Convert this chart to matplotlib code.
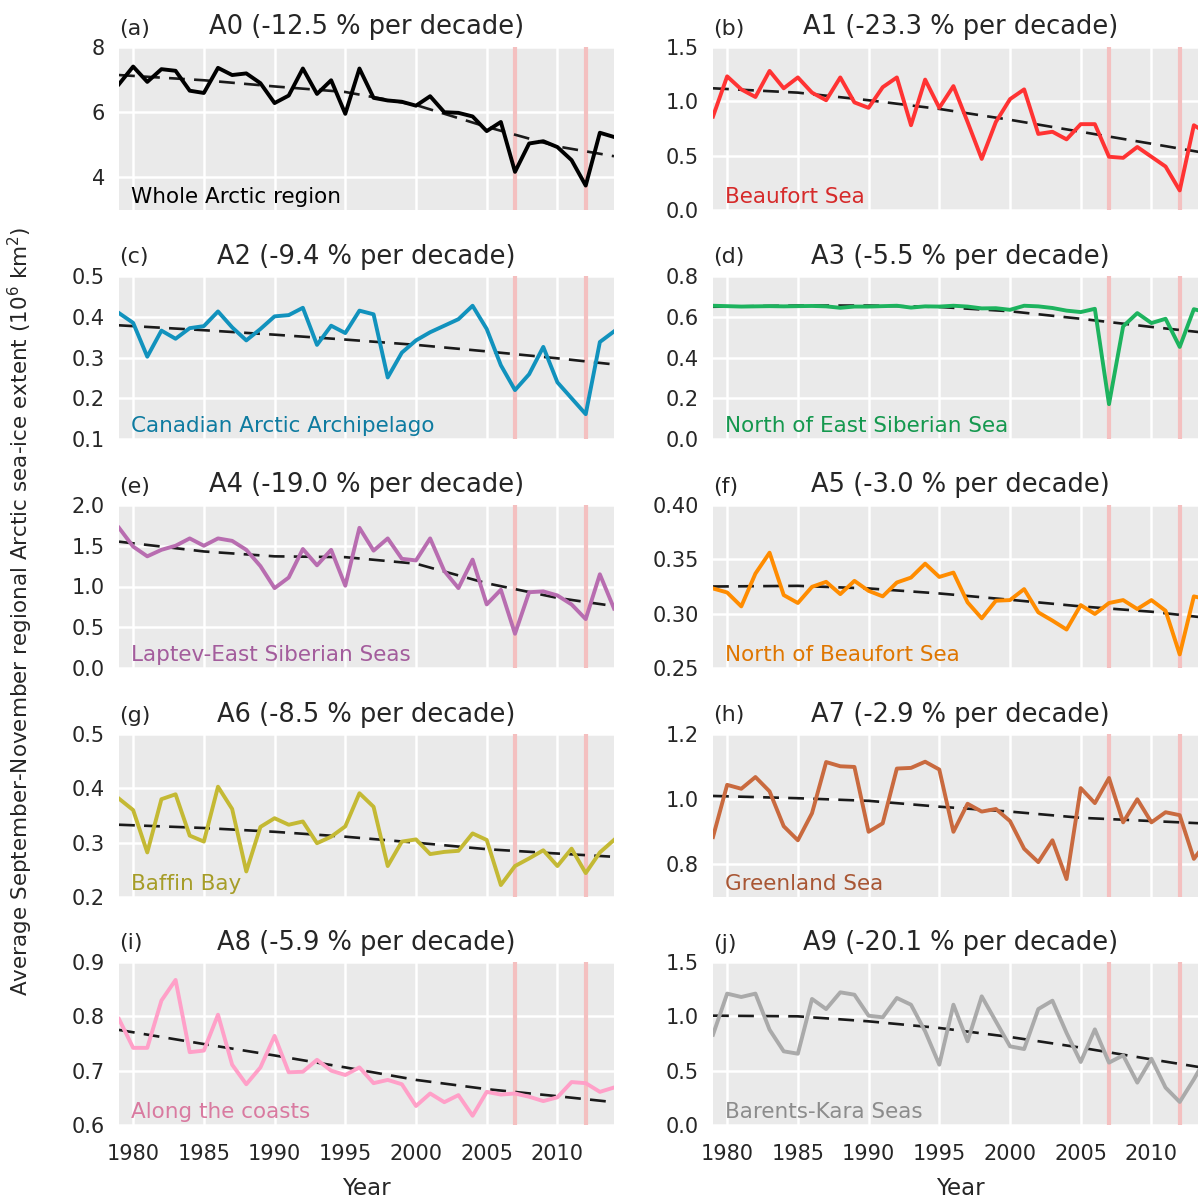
import numpy as np
import matplotlib.pyplot as plt

# September-November mean sea-ice extent per region (10^6 km^2), 1979-2014
years = np.arange(1979, 2015)
highlight_years = [2007, 2012]
trend_years = [1979, 1985, 1990, 1995, 2000, 2005, 2010, 2014]

a0 = [6.86, 7.40, 6.93, 7.32, 7.27, 6.66, 6.59, 7.36, 7.14, 7.19, 6.89, 6.28,
      6.51, 7.34, 6.56, 6.98, 5.95, 7.34, 6.44, 6.36, 6.32, 6.20, 6.49, 6.00,
      5.98, 5.87, 5.42, 5.70, 4.17, 5.04, 5.11, 4.93, 4.53, 3.75, 5.37, 5.24]
a1 = [0.86, 1.23, 1.11, 1.04, 1.28, 1.12, 1.22, 1.08, 1.01, 1.22, 0.99, 0.94,
      1.13, 1.22, 0.78, 1.20, 0.94, 1.14, 0.81, 0.47, 0.81, 1.02, 1.11, 0.70,
      0.72, 0.65, 0.79, 0.79, 0.49, 0.48, 0.58, 0.49, 0.40, 0.18, 0.78, 0.70]
a2 = [0.409, 0.385, 0.302, 0.366, 0.346, 0.372, 0.377, 0.413, 0.374, 0.342,
      0.370, 0.401, 0.404, 0.422, 0.331, 0.378, 0.360, 0.415, 0.406, 0.251,
      0.312, 0.342, 0.362, 0.378, 0.394, 0.427, 0.370, 0.281, 0.220, 0.259,
      0.326, 0.239, 0.200, 0.161, 0.338, 0.364]
a3 = [0.654, 0.652, 0.650, 0.651, 0.652, 0.651, 0.652, 0.653, 0.651, 0.644,
      0.650, 0.650, 0.652, 0.654, 0.645, 0.651, 0.650, 0.654, 0.650, 0.641,
      0.642, 0.634, 0.654, 0.651, 0.643, 0.630, 0.623, 0.639, 0.171, 0.553,
      0.618, 0.569, 0.590, 0.452, 0.637, 0.620]
a4 = [1.72, 1.49, 1.37, 1.45, 1.50, 1.59, 1.50, 1.59, 1.56, 1.45, 1.25, 0.98,
      1.11, 1.46, 1.26, 1.45, 1.01, 1.72, 1.44, 1.59, 1.34, 1.32, 1.59, 1.19,
      0.98, 1.33, 0.78, 0.96, 0.42, 0.93, 0.94, 0.89, 0.78, 0.60, 1.15, 0.73]
a5 = [0.3232, 0.3195, 0.3067, 0.3369, 0.3561, 0.3171, 0.3098, 0.3247, 0.3293,
      0.3180, 0.3302, 0.3210, 0.3159, 0.3287, 0.3332, 0.3460, 0.3338, 0.3378,
      0.3104, 0.2957, 0.3119, 0.3125, 0.3226, 0.3012, 0.2936, 0.2854, 0.3079,
      0.2997, 0.3098, 0.3125, 0.3043, 0.3125, 0.3027, 0.2625, 0.3159, 0.3130]
a6 = [0.381, 0.360, 0.282, 0.380, 0.389, 0.313, 0.302, 0.403, 0.362, 0.247,
      0.329, 0.345, 0.333, 0.339, 0.299, 0.311, 0.330, 0.391, 0.366, 0.257,
      0.302, 0.306, 0.279, 0.283, 0.285, 0.317, 0.305, 0.222, 0.257, 0.271,
      0.286, 0.257, 0.289, 0.244, 0.282, 0.305]
a7 = [0.884, 1.044, 1.032, 1.068, 1.024, 0.917, 0.874, 0.957, 1.114, 1.101,
      1.099, 0.900, 0.926, 1.094, 1.096, 1.115, 1.091, 0.900, 0.986, 0.962,
      0.970, 0.933, 0.848, 0.807, 0.874, 0.755, 1.034, 0.988, 1.065, 0.929,
      1.000, 0.929, 0.960, 0.951, 0.817, 0.874]
a8 = [0.795, 0.742, 0.742, 0.829, 0.867, 0.734, 0.737, 0.803, 0.711, 0.675,
      0.706, 0.764, 0.697, 0.698, 0.720, 0.700, 0.692, 0.706, 0.677, 0.683,
      0.675, 0.635, 0.658, 0.642, 0.655, 0.617, 0.661, 0.656, 0.658, 0.652,
      0.644, 0.651, 0.679, 0.677, 0.661, 0.669]
a9 = [0.831, 1.209, 1.178, 1.209, 0.877, 0.678, 0.656, 1.160, 1.067, 1.221,
      1.199, 1.006, 0.991, 1.169, 1.107, 0.862, 0.555, 1.107, 0.770, 1.184,
      0.954, 0.724, 0.699, 1.067, 1.144, 0.847, 0.580, 0.880, 0.574, 0.641,
      0.390, 0.610, 0.344, 0.212, 0.420, 0.650]

# fitted trend curves (dashed), read at trend_years
t0 = [7.14, 6.98, 6.79, 6.62, 6.22, 5.55, 4.95, 4.65]
t1 = [1.12, 1.08, 1.01, 0.93, 0.83, 0.72, 0.61, 0.52]
t2 = [0.379, 0.367, 0.356, 0.344, 0.331, 0.315, 0.298, 0.283]
t3 = [0.649, 0.655, 0.655, 0.648, 0.627, 0.590, 0.550, 0.520]
t4 = [1.55, 1.43, 1.37, 1.36, 1.28, 1.04, 0.86, 0.76]
t5 = [0.3250, 0.3256, 0.3232, 0.3186, 0.3128, 0.3067, 0.3018, 0.2960]
t6 = [0.333, 0.327, 0.320, 0.311, 0.300, 0.288, 0.280, 0.274]
t7 = [1.010, 1.003, 0.995, 0.977, 0.962, 0.943, 0.933, 0.925]
t8 = [0.775, 0.749, 0.728, 0.706, 0.683, 0.666, 0.653, 0.642]
t9 = [1.006, 1.000, 0.954, 0.893, 0.810, 0.712, 0.604, 0.520]

series = [a0, a1, a2, a3, a4, a5, a6, a7, a8, a9]
trends = [t0, t1, t2, t3, t4, t5, t6, t7, t8, t9]
letters = ['a', 'b', 'c', 'd', 'e', 'f', 'g', 'h', 'i', 'j']
codes = ['A0', 'A1', 'A2', 'A3', 'A4', 'A5', 'A6', 'A7', 'A8', 'A9']
rates = [-12.5, -23.3, -9.4, -5.5, -19.0, -3.0, -8.5, -2.9, -5.9, -20.1]
regions = ['Whole Arctic region', 'Beaufort Sea', 'Canadian Arctic Archipelago',
           'North of East Siberian Sea', 'Laptev-East Siberian Seas',
           'North of Beaufort Sea', 'Baffin Bay', 'Greenland Sea',
           'Along the coasts', 'Barents-Kara Seas']
ylims = [(3, 8), (0, 1.5), (0.1, 0.5), (0, 0.8), (0, 2.0), (0.25, 0.40),
         (0.2, 0.5), (0.7, 1.2), (0.6, 0.9), (0, 1.5)]
yticks = [[4, 6, 8], [0, 0.5, 1.0, 1.5], [0.1, 0.2, 0.3, 0.4, 0.5],
          [0, 0.2, 0.4, 0.6, 0.8], [0, 0.5, 1.0, 1.5, 2.0],
          [0.25, 0.30, 0.35, 0.40], [0.2, 0.3, 0.4, 0.5], [0.8, 1.0, 1.2],
          [0.6, 0.7, 0.8, 0.9], [0, 0.5, 1.0, 1.5]]
ytick_fmt = ['%d', '%.1f', '%.1f', '%.1f', '%.1f', '%.2f', '%.1f', '%.1f', '%.1f', '%.1f']

line_colors = ['#000000', '#ff3333', '#1192bd', '#1db35e', '#b86db0',
               '#ff8c00', '#c4b934', '#c96a3f', '#ffa0c8', '#aaaaaa']
text_colors = ['#000000', '#d62a2a', '#0e7ba0', '#14984e', '#a35c9c',
               '#df7600', '#a69d28', '#a85634', '#d97aa0', '#8c8c8c']

txt = '#262626'
plt.rcParams['font.family'] = 'DejaVu Sans'

fig = plt.figure(figsize=(11.98, 12.01), dpi=100)
W, H = 1198.0, 1201.0
col_x = [119, 713]
row_top = [47, 276, 505, 734, 962]
ax_w, ax_h = 495, 163

for i in range(10):
    r, c = divmod(i, 2)
    ax = fig.add_axes([col_x[c] / W, 1 - (row_top[r] + ax_h) / H, ax_w / W, ax_h / H])
    ax.set_facecolor('#eaeaea')
    for s in ax.spines.values():
        s.set_visible(False)
    ax.grid(True, color='white', lw=1.8)
    ax.set_axisbelow(True)

    for yr in highlight_years:
        ax.axvline(yr, color='#f4c0c0', lw=3, zorder=1.5)
    ax.plot(trend_years, trends[i], color='#1a1a1a', lw=1.9, dashes=(6, 3.5), zorder=2)
    ax.plot(years, series[i], color=line_colors[i], lw=2.8, zorder=3)

    ax.set_xlim(1979, 2014)
    ax.set_ylim(*ylims[i])
    ax.set_xticks([1980, 1985, 1990, 1995, 2000, 2005, 2010])
    ax.set_yticks(yticks[i])
    ax.set_yticklabels([ytick_fmt[i] % v for v in yticks[i]])
    ax.tick_params(axis='y', length=0, pad=10, labelsize=15, colors=txt)
    ax.tick_params(axis='x', length=0, pad=14, labelsize=15, colors=txt)
    if r < 4:
        ax.set_xticklabels([])
    else:
        ax.set_xlabel('Year', fontsize=16.5, color=txt, labelpad=9)

    ax.set_title('%s (%.1f %% per decade)' % (codes[i], rates[i]),
                 fontsize=18.5, color=txt, pad=9)
    ax.set_title('(%s)' % letters[i], loc='left', fontsize=16, color=txt, pad=9)
    ax.text(0.025, 0.045, regions[i], transform=ax.transAxes,
            fontsize=15.5, color=text_colors[i], va='baseline', ha='left')

fig.text(20 / W, 1 - 611 / H,
         'Average September-November regional Arctic sea-ice extent (10$^6$ km$^2$)',
         rotation=90, va='center', ha='center', fontsize=15.5, color=txt)

fig.savefig('out.png', dpi=100)
